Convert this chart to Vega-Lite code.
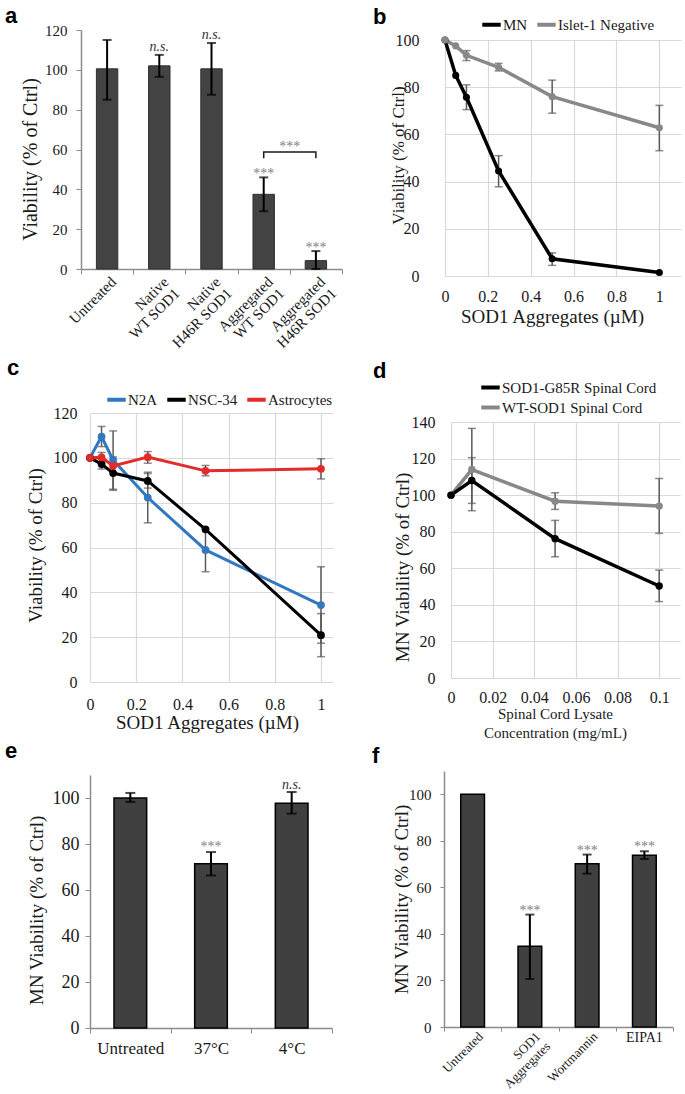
{
 "$schema": "https://vega.github.io/schema/vega-lite/v6.json",
 "autosize": {"type": "none"},
 "padding": {"left": 0, "top": 0, "right": 685, "bottom": 1094},
 "background": "white",
 "spacing": 0,
 "bounds": "flush",
 "resolve": {"scale": {"color": "independent"}, "legend": {"color": "independent"}},
 "config": {
  "font": "Liberation Serif",
  "view": {"stroke": null, "fill": "transparent"},
  "axis": {"labelFont": "Liberation Serif", "titleFont": "Liberation Serif", "labelColor": "#1a1a1a", "titleColor": "#1a1a1a", "titleFontWeight": "normal", "domainColor": "#8c8c8c", "tickColor": "#8c8c8c", "gridColor": "#d9d9d9", "gridWidth": 1.2, "labelFlush": false, "labelOverlap": false},
  "legend": {"labelFont": "Liberation Serif", "labelFontSize": 15, "labelColor": "#1a1a1a", "symbolType": "stroke", "symbolStrokeWidth": 4, "symbolSize": 340, "labelOffset": 0, "columnPadding": 1, "padding": 0},
  "title": {"font": "Liberation Sans", "fontWeight": "bold", "fontSize": 22, "anchor": "start", "frame": "group", "offset": 0, "baseline": "alphabetic", "color": "#000000"},
  "text": {"font": "Liberation Serif"}
 },
 "datasets": {
  "a": [
   {"cat": "Untreated", "v": 100.5, "lo": 85, "hi": 115},
   {"cat": "Native|WT SOD1", "v": 102, "lo": 96.5, "hi": 107.5, "ann": "n.s."},
   {"cat": "Native|H46R SOD1", "v": 100.5, "lo": 87.5, "hi": 113.5, "ann": "n.s."},
   {"cat": "Aggregated|WT SOD1", "v": 37.5, "lo": 29, "hi": 46, "ann": "***"},
   {"cat": "Aggregated|H46R SOD1", "v": 4.2, "lo": 0, "hi": 9, "ann": "***"}
  ],
  "abr": [
   {"cat": "Aggregated|WT SOD1", "y": 55.6, "o": 1},
   {"cat": "Aggregated|WT SOD1", "y": 58.7, "o": 2},
   {"cat": "Aggregated|H46R SOD1", "y": 58.7, "o": 3},
   {"cat": "Aggregated|H46R SOD1", "y": 55.6, "o": 4}
  ],
  "abt": [{"cat": "Aggregated|WT SOD1", "y": 58.7, "t": "***"}],
  "b": [
   {"s": "MN", "x": 0, "y": 100},
   {"s": "MN", "x": 0.05, "y": 85},
   {"s": "MN", "x": 0.1, "y": 75.7, "lo": 70.5, "hi": 81},
   {"s": "MN", "x": 0.25, "y": 44.5, "lo": 37.8, "hi": 51},
   {"s": "MN", "x": 0.5, "y": 7.3, "lo": 4.5, "hi": 9.8},
   {"s": "MN", "x": 1, "y": 1.5},
   {"s": "Islet-1 Negative", "x": 0, "y": 100},
   {"s": "Islet-1 Negative", "x": 0.05, "y": 97.5},
   {"s": "Islet-1 Negative", "x": 0.1, "y": 93.5, "lo": 91.3, "hi": 95.5},
   {"s": "Islet-1 Negative", "x": 0.25, "y": 88.4, "lo": 86.9, "hi": 90.1},
   {"s": "Islet-1 Negative", "x": 0.5, "y": 76, "lo": 69, "hi": 83},
   {"s": "Islet-1 Negative", "x": 1, "y": 62.8, "lo": 53.1, "hi": 72.3}
  ],
  "c": [
   {"s": "N2A", "x": 0, "y": 100},
   {"s": "N2A", "x": 0.05, "y": 109.5, "lo": 105, "hi": 114},
   {"s": "N2A", "x": 0.1, "y": 99, "lo": 86, "hi": 112},
   {"s": "N2A", "x": 0.25, "y": 82.3, "lo": 71, "hi": 93.6},
   {"s": "N2A", "x": 0.5, "y": 58.9, "lo": 49.2, "hi": 68.6},
   {"s": "N2A", "x": 1, "y": 34.3, "lo": 17.3, "hi": 51.4},
   {"s": "NSC-34", "x": 0, "y": 100},
   {"s": "NSC-34", "x": 0.05, "y": 97.2, "lo": 95, "hi": 99.5},
   {"s": "NSC-34", "x": 0.1, "y": 93.2, "lo": 85.5, "hi": 100.4},
   {"s": "NSC-34", "x": 0.25, "y": 89.7, "lo": 86.5, "hi": 93},
   {"s": "NSC-34", "x": 0.5, "y": 68.1},
   {"s": "NSC-34", "x": 1, "y": 20.9, "lo": 11.3, "hi": 30.5},
   {"s": "Astrocytes", "x": 0, "y": 100},
   {"s": "Astrocytes", "x": 0.05, "y": 100.2, "lo": 97.9, "hi": 102.4},
   {"s": "Astrocytes", "x": 0.1, "y": 96.4},
   {"s": "Astrocytes", "x": 0.25, "y": 100.3, "lo": 97.6, "hi": 102.8},
   {"s": "Astrocytes", "x": 0.5, "y": 94.2, "lo": 92, "hi": 96.6},
   {"s": "Astrocytes", "x": 1, "y": 95.1, "lo": 90.6, "hi": 99.6}
  ],
  "d": [
   {"s": "WT-SOD1 Spinal Cord", "x": 0, "y": 100},
   {"s": "WT-SOD1 Spinal Cord", "x": 0.01, "y": 114, "lo": 91.5, "hi": 136.5},
   {"s": "WT-SOD1 Spinal Cord", "x": 0.05, "y": 96.7, "lo": 92.2, "hi": 101.3},
   {"s": "WT-SOD1 Spinal Cord", "x": 0.1, "y": 94, "lo": 79.1, "hi": 109.1},
   {"s": "SOD1-G85R Spinal Cord", "x": 0, "y": 100},
   {"s": "SOD1-G85R Spinal Cord", "x": 0.01, "y": 108, "lo": 95.5, "hi": 120.5},
   {"s": "SOD1-G85R Spinal Cord", "x": 0.05, "y": 76.2, "lo": 66.3, "hi": 86.2},
   {"s": "SOD1-G85R Spinal Cord", "x": 0.1, "y": 50.3, "lo": 41.8, "hi": 59}
  ],
  "e": [
   {"cat": "Untreated", "v": 100, "lo": 98.3, "hi": 102.2},
   {"cat": "37°C", "v": 71.4, "lo": 66.3, "hi": 76.5, "ann": "***"},
   {"cat": "4°C", "v": 97.7, "lo": 93.2, "hi": 102.6, "ann": "n.s."}
  ],
  "f": [
   {"cat": "Untreated", "v": 100},
   {"cat": "SOD1|Aggregates", "v": 34.7, "lo": 20.6, "hi": 48.3, "ann": "***"},
   {"cat": "Wortmannin", "v": 70.2, "lo": 65.9, "hi": 74.1, "ann": "***"},
   {"cat": "EIPA1", "v": 73.8, "lo": 72.2, "hi": 75.5, "ann": "***"}
  ]
 },
 "vconcat": [
  {"spacing": 0, "bounds": "flush", "resolve": {"scale": {"color": "independent"}, "legend": {"color": "independent"}},
   "hconcat": [
    {"width": 81, "height": 1, "data": {"values": []}, "mark": "point"},
    {"spacing": 0, "bounds": "flush", "resolve": {"scale": {"color": "independent"}, "legend": {"color": "independent"}},
     "vconcat": [
      {"width": 1, "height": 30, "data": {"values": []}, "mark": "point"},
      {
       "width": 261, "height": 239,
       "title": {"text": "a", "dx": -76, "dy": 9},
       "layer": [
        {"data": {"name": "a"},
         "mark": {"type": "bar", "width": {"band": 0.41}, "fill": "#434343", "stroke": "#2e2e2e", "strokeWidth": 1},
         "encoding": {
          "x": {"field": "cat", "type": "nominal", "scale": {"domain": ["Untreated", "Native|WT SOD1", "Native|H46R SOD1", "Aggregated|WT SOD1", "Aggregated|H46R SOD1"], "paddingInner": 0, "paddingOuter": 0},
                "axis": {"title": null, "tickBand": "extent", "labelAngle": -45, "labelAlign": "right", "labelBaseline": "middle", "labelExpr": "split(datum.label, '|')", "labelFontSize": 15, "labelLineHeight": 16, "labelPadding": 5, "labelOffset": 6, "tickSize": 5, "domainWidth": 1.5, "labelOverlap": false}},
          "y": {"field": "v", "type": "quantitative", "scale": {"domain": [0, 120], "nice": false},
                "axis": {"values": [0, 20, 40, 60, 80, 100, 120], "tickCount": 20, "format": "d", "grid": false, "tickSize": 5, "labelFontSize": 15, "labelPadding": 9, "domainWidth": 1.5, "labelOverlap": false, "title": "Viability (% of Ctrl)", "titleFontSize": 20, "titleX": -51, "titleY": 129, "titleBaseline": "middle"}}
         }},
        {"data": {"name": "a"}, "mark": {"type": "rule", "color": "#000000", "strokeWidth": 2},
         "encoding": {"x": {"field": "cat", "type": "nominal"}, "y": {"field": "lo", "type": "quantitative"}, "y2": {"field": "hi"}}},
        {"data": {"name": "a"}, "mark": {"type": "tick", "color": "#000000", "thickness": 2, "size": 9},
         "encoding": {"x": {"field": "cat", "type": "nominal"}, "y": {"field": "lo", "type": "quantitative"}}},
        {"data": {"name": "a"}, "mark": {"type": "tick", "color": "#000000", "thickness": 2, "size": 9},
         "encoding": {"x": {"field": "cat", "type": "nominal"}, "y": {"field": "hi", "type": "quantitative"}}},
        {"data": {"name": "a"}, "transform": [{"filter": "datum.ann === 'n.s.'"}],
         "mark": {"type": "text", "fontStyle": "italic", "fontSize": 14, "fill": "#333333", "baseline": "middle", "dy": -8},
         "encoding": {"x": {"field": "cat", "type": "nominal"}, "y": {"field": "hi", "type": "quantitative"}, "text": {"field": "ann"}}},
        {"data": {"name": "a"}, "transform": [{"filter": "datum.ann === '***'"}],
         "mark": {"type": "text", "fontSize": 14, "fill": "#7f7f7f", "baseline": "middle", "dy": -3},
         "encoding": {"x": {"field": "cat", "type": "nominal"}, "y": {"field": "hi", "type": "quantitative"}, "text": {"field": "ann"}}},
        {"data": {"name": "abr"}, "mark": {"type": "line", "color": "#1a1a1a", "strokeWidth": 1.5},
         "encoding": {"x": {"field": "cat", "type": "nominal"}, "y": {"field": "y", "type": "quantitative"}, "order": {"field": "o", "type": "quantitative"}}},
        {"data": {"name": "abt"}, "mark": {"type": "text", "fontSize": 14, "fill": "#7f7f7f", "baseline": "middle", "dy": -5},
         "encoding": {"x": {"field": "cat", "type": "nominal", "bandPosition": 1}, "y": {"field": "y", "type": "quantitative"}, "text": {"field": "t"}}}
       ]
      }
     ]}
   ]},
  {"spacing": 0, "bounds": "flush", "resolve": {"scale": {"color": "independent"}, "legend": {"color": "independent"}},
   "hconcat": [
    {"width": 445, "height": 1, "data": {"values": []}, "mark": "point"},
    {"spacing": 0, "bounds": "flush", "resolve": {"scale": {"color": "independent"}, "legend": {"color": "independent"}},
     "vconcat": [
      {"width": 1, "height": 40, "data": {"values": []}, "mark": "point"},
      {
       "width": 236, "height": 236,
       "title": {"text": "b", "dx": -72, "dy": 20},
       "data": {"name": "b"},
       "encoding": {
        "x": {"field": "x", "type": "quantitative", "scale": {"domain": [0, 1.101], "nice": false, "zero": false},
              "axis": {"values": [0, 0.2, 0.4, 0.6, 0.8, 1], "tickCount": 20, "format": "~g", "grid": true, "domain": false, "ticks": false, "labelFontSize": 16, "labelPadding": 12, "labelOverlap": false, "title": "SOD1 Aggregates (µM)", "titleFontSize": 19, "titleX": 107, "titleY": 40, "titleBaseline": "middle", "titleAlign": "center"}}
       },
       "layer": [
        {"mark": {"type": "rule", "color": "#5a5a5a", "strokeWidth": 1.5},
         "encoding": {"y": {"field": "lo", "type": "quantitative", "scale": {"domain": [0, 100], "nice": false},
                            "axis": {"values": [0, 20, 40, 60, 80, 100], "tickCount": 20, "format": "d", "grid": true, "domain": false, "ticks": false, "labelFontSize": 16, "labelPadding": 26, "labelOverlap": false, "title": "Viability (% of Ctrl)", "titleFontSize": 17, "titleX": -47, "titleY": 115, "titleBaseline": "middle"}},
                      "y2": {"field": "hi"}}},
        {"mark": {"type": "tick", "orient": "horizontal", "color": "#5a5a5a", "thickness": 1.5, "size": 8},
         "encoding": {"y": {"field": "lo", "type": "quantitative"}}},
        {"mark": {"type": "tick", "orient": "horizontal", "color": "#5a5a5a", "thickness": 1.5, "size": 8},
         "encoding": {"y": {"field": "hi", "type": "quantitative"}}},
        {"mark": {"type": "line", "strokeWidth": 3.5},
         "encoding": {"y": {"field": "y", "type": "quantitative"},
                      "color": {"field": "s", "type": "nominal", "scale": {"domain": ["MN", "Islet-1 Negative"], "range": ["#000000", "#888888"]},
                                "legend": {"orient": "none", "direction": "horizontal", "legendX": 35, "legendY": -27, "title": null, "symbolType": "stroke"}}}},
        {"mark": {"type": "point", "filled": true, "size": 50, "opacity": 1},
         "encoding": {"y": {"field": "y", "type": "quantitative"}, "color": {"field": "s", "type": "nominal"}}}
       ]
      }
     ]}
   ]},
  {"spacing": 0, "bounds": "flush", "resolve": {"scale": {"color": "independent"}, "legend": {"color": "independent"}},
   "hconcat": [
    {"width": 90, "height": 1, "data": {"values": []}, "mark": "point"},
    {"spacing": 0, "bounds": "flush", "resolve": {"scale": {"color": "independent"}, "legend": {"color": "independent"}},
     "vconcat": [
      {"width": 1, "height": 413, "data": {"values": []}, "mark": "point"},
      {
       "width": 243, "height": 269,
       "title": {"text": "c", "dx": -83, "dy": -4},
       "data": {"name": "c"},
       "encoding": {
        "x": {"field": "x", "type": "quantitative", "scale": {"domain": [0, 1.052], "nice": false, "zero": false},
              "axis": {"values": [0, 0.2, 0.4, 0.6, 0.8, 1], "tickCount": 20, "format": "~g", "grid": true, "domain": false, "ticks": false, "labelFontSize": 16, "labelPadding": 14, "labelOverlap": false, "title": "SOD1 Aggregates (µM)", "titleFontSize": 19, "titleX": 117, "titleY": 40, "titleBaseline": "middle", "titleAlign": "center"}}
       },
       "layer": [
        {"mark": {"type": "rule", "color": "#5a5a5a", "strokeWidth": 1.5},
         "encoding": {"y": {"field": "lo", "type": "quantitative", "scale": {"domain": [0, 120], "nice": false},
                            "axis": {"values": [0, 20, 40, 60, 80, 100, 120], "tickCount": 20, "format": "d", "grid": true, "domain": false, "ticks": false, "labelFontSize": 16, "labelPadding": 13, "labelOverlap": false, "title": "Viability (% of Ctrl)", "titleFontSize": 19, "titleX": -55, "titleY": 132, "titleBaseline": "middle"}},
                      "y2": {"field": "hi"}}},
        {"mark": {"type": "tick", "orient": "horizontal", "color": "#5a5a5a", "thickness": 1.5, "size": 8},
         "encoding": {"y": {"field": "lo", "type": "quantitative"}}},
        {"mark": {"type": "tick", "orient": "horizontal", "color": "#5a5a5a", "thickness": 1.5, "size": 8},
         "encoding": {"y": {"field": "hi", "type": "quantitative"}}},
        {"mark": {"type": "line", "strokeWidth": 3},
         "encoding": {"y": {"field": "y", "type": "quantitative"},
                      "color": {"field": "s", "type": "nominal", "scale": {"domain": ["N2A", "NSC-34", "Astrocytes"], "range": ["#3178c0", "#000000", "#e32b2b"]},
                                "legend": {"orient": "none", "direction": "horizontal", "legendX": 15, "legendY": -25, "title": null, "symbolType": "stroke"}}}},
        {"mark": {"type": "point", "filled": true, "size": 60, "opacity": 1},
         "encoding": {"y": {"field": "y", "type": "quantitative"}, "color": {"field": "s", "type": "nominal"}}}
       ]
      }
     ]}
   ]},
  {"spacing": 0, "bounds": "flush", "resolve": {"scale": {"color": "independent"}, "legend": {"color": "independent"}},
   "hconcat": [
    {"width": 451, "height": 1, "data": {"values": []}, "mark": "point"},
    {"spacing": 0, "bounds": "flush", "resolve": {"scale": {"color": "independent"}, "legend": {"color": "independent"}},
     "vconcat": [
      {"width": 1, "height": 422, "data": {"values": []}, "mark": "point"},
      {
       "width": 229, "height": 256,
       "title": {"text": "d", "dx": -78, "dy": 11},
       "data": {"name": "d"},
       "encoding": {
        "x": {"field": "x", "type": "quantitative", "scale": {"domain": [0, 0.11], "nice": false, "zero": false},
              "axis": {"values": [0, 0.02, 0.04, 0.06, 0.08, 0.1], "tickCount": 20, "format": "~g", "grid": true, "domain": false, "ticks": false, "labelFontSize": 16, "labelPadding": 11, "labelOverlap": false, "title": ["Spinal Cord Lysate", "Concentration (mg/mL)"], "titleFontSize": 15, "titleLineHeight": 19, "titleX": 104, "titleY": 28, "titleBaseline": "top", "titleAlign": "center"}}
       },
       "layer": [
        {"mark": {"type": "rule", "color": "#5a5a5a", "strokeWidth": 1.5},
         "encoding": {"y": {"field": "lo", "type": "quantitative", "scale": {"domain": [0, 140], "nice": false},
                            "axis": {"values": [0, 20, 40, 60, 80, 100, 120, 140], "tickCount": 20, "format": "d", "grid": true, "domain": false, "ticks": false, "labelFontSize": 16, "labelPadding": 16, "labelOverlap": false, "title": "MN Viability (% of Ctrl)", "titleFontSize": 19, "titleX": -49, "titleY": 145, "titleBaseline": "middle"}},
                      "y2": {"field": "hi"}}},
        {"mark": {"type": "tick", "orient": "horizontal", "color": "#5a5a5a", "thickness": 1.5, "size": 8},
         "encoding": {"y": {"field": "lo", "type": "quantitative"}}},
        {"mark": {"type": "tick", "orient": "horizontal", "color": "#5a5a5a", "thickness": 1.5, "size": 8},
         "encoding": {"y": {"field": "hi", "type": "quantitative"}}},
        {"mark": {"type": "line", "strokeWidth": 3.5},
         "encoding": {"y": {"field": "y", "type": "quantitative"},
                      "color": {"field": "s", "type": "nominal", "scale": {"domain": ["SOD1-G85R Spinal Cord", "WT-SOD1 Spinal Cord"], "range": ["#000000", "#888888"]},
                                "legend": {"orient": "none", "direction": "vertical", "legendX": 28, "legendY": -46, "title": null, "symbolType": "stroke", "symbolSize": 340, "rowPadding": 0}}}},
        {"mark": {"type": "point", "filled": true, "size": 55, "opacity": 1},
         "encoding": {"y": {"field": "y", "type": "quantitative"}, "color": {"field": "s", "type": "nominal"}}}
       ]
      }
     ]}
   ]},
  {"spacing": 0, "bounds": "flush", "resolve": {"scale": {"color": "independent"}, "legend": {"color": "independent"}},
   "hconcat": [
    {"width": 90, "height": 1, "data": {"values": []}, "mark": "point"},
    {"spacing": 0, "bounds": "flush", "resolve": {"scale": {"color": "independent"}, "legend": {"color": "independent"}},
     "vconcat": [
      {"width": 1, "height": 775, "data": {"values": []}, "mark": "point"},
      {
       "width": 242, "height": 253,
       "title": {"text": "e", "dx": -85, "dy": -8},
       "data": {"name": "e"},
       "encoding": {
        "x": {"field": "cat", "type": "nominal", "scale": {"domain": ["Untreated", "37°C", "4°C"], "paddingInner": 0, "paddingOuter": 0},
              "axis": {"title": null, "tickBand": "extent", "labelAngle": 0, "labelBaseline": "top", "labelFontSize": 17, "labelPadding": 7, "tickSize": 5, "domainWidth": 1.5, "labelOverlap": false}}
       },
       "layer": [
        {"mark": {"type": "bar", "width": {"band": 0.405}, "fill": "#404040", "stroke": "#000000", "strokeWidth": 1.5},
         "encoding": {"y": {"field": "v", "type": "quantitative", "scale": {"domain": [0, 110], "nice": false},
                            "axis": {"values": [0, 20, 40, 60, 80, 100], "tickCount": 20, "format": "d", "grid": false, "tickSize": 5, "labelFontSize": 18, "labelPadding": 6, "domainWidth": 1.5, "labelOverlap": false, "title": "MN Viability (% of Ctrl)", "titleFontSize": 19, "titleX": -54, "titleY": 135, "titleBaseline": "middle"}}}},
        {"mark": {"type": "rule", "color": "#000000", "strokeWidth": 2},
         "encoding": {"y": {"field": "lo", "type": "quantitative"}, "y2": {"field": "hi"}}},
        {"mark": {"type": "tick", "color": "#000000", "thickness": 2, "size": 10},
         "encoding": {"y": {"field": "lo", "type": "quantitative"}}},
        {"mark": {"type": "tick", "color": "#000000", "thickness": 2, "size": 10},
         "encoding": {"y": {"field": "hi", "type": "quantitative"}}},
        {"transform": [{"filter": "datum.ann === 'n.s.'"}],
         "mark": {"type": "text", "fontStyle": "italic", "fontSize": 14, "fill": "#333333", "baseline": "middle", "dy": -7},
         "encoding": {"y": {"field": "hi", "type": "quantitative"}, "text": {"field": "ann"}}},
        {"transform": [{"filter": "datum.ann === '***'"}],
         "mark": {"type": "text", "fontSize": 14, "fill": "#7f7f7f", "baseline": "middle", "dy": -5},
         "encoding": {"y": {"field": "hi", "type": "quantitative"}, "text": {"field": "ann"}}}
       ]
      }
     ]}
   ]},
  {"spacing": 0, "bounds": "flush", "resolve": {"scale": {"color": "independent"}, "legend": {"color": "independent"}},
   "hconcat": [
    {"width": 444, "height": 1, "data": {"values": []}, "mark": "point"},
    {"spacing": 0, "bounds": "flush", "resolve": {"scale": {"color": "independent"}, "legend": {"color": "independent"}},
     "vconcat": [
      {"width": 1, "height": 771, "data": {"values": []}, "mark": "point"},
      {
       "width": 229, "height": 256,
       "title": {"text": "f", "dx": -72, "dy": 1},
       "data": {"name": "f"},
       "encoding": {
        "x": {"field": "cat", "type": "nominal", "scale": {"domain": ["Untreated", "SOD1|Aggregates", "Wortmannin", "EIPA1"], "paddingInner": 0, "paddingOuter": 0},
              "axis": {"title": null, "tickBand": "extent", "labelExpr": "datum.value === 'EIPA1' ? '' : split(datum.label, '|')", "labelAngle": -45, "labelAlign": "right", "labelBaseline": "middle", "labelFontSize": 13, "labelLineHeight": 14, "labelOffset": 8, "labelPadding": 3, "tickSize": 4, "domainWidth": 1.5, "labelOverlap": false}}
       },
       "layer": [
        {"mark": {"type": "bar", "width": {"band": 0.414}, "fill": "#404040", "stroke": "#000000", "strokeWidth": 1.5},
         "encoding": {"y": {"field": "v", "type": "quantitative", "scale": {"domain": [0, 110], "nice": false},
                            "axis": {"values": [0, 20, 40, 60, 80, 100], "tickCount": 20, "format": "d", "grid": false, "tickSize": 4, "labelFontSize": 15, "labelPadding": 9, "domainWidth": 1.5, "labelOverlap": false, "title": "MN Viability (% of Ctrl)", "titleFontSize": 19, "titleX": -43, "titleY": 128, "titleBaseline": "middle"}}}},
        {"mark": {"type": "rule", "color": "#000000", "strokeWidth": 2},
         "encoding": {"y": {"field": "lo", "type": "quantitative"}, "y2": {"field": "hi"}}},
        {"mark": {"type": "tick", "color": "#000000", "thickness": 2, "size": 9},
         "encoding": {"y": {"field": "lo", "type": "quantitative"}}},
        {"mark": {"type": "tick", "color": "#000000", "thickness": 2, "size": 9},
         "encoding": {"y": {"field": "hi", "type": "quantitative"}}},
        {"transform": [{"filter": "datum.ann === '***'"}],
         "mark": {"type": "text", "fontSize": 14, "fill": "#7f7f7f", "baseline": "middle", "dy": -4},
         "encoding": {"y": {"field": "hi", "type": "quantitative"}, "text": {"field": "ann"}}},
        {"transform": [{"filter": "datum.cat === 'EIPA1'"}],
         "mark": {"type": "text", "fontSize": 14, "fill": "#1a1a1a", "baseline": "top", "dy": 4},
         "encoding": {"y": {"datum": 0}, "text": {"field": "cat"}}}
       ]
      }
     ]}
   ]}
 ]
}
